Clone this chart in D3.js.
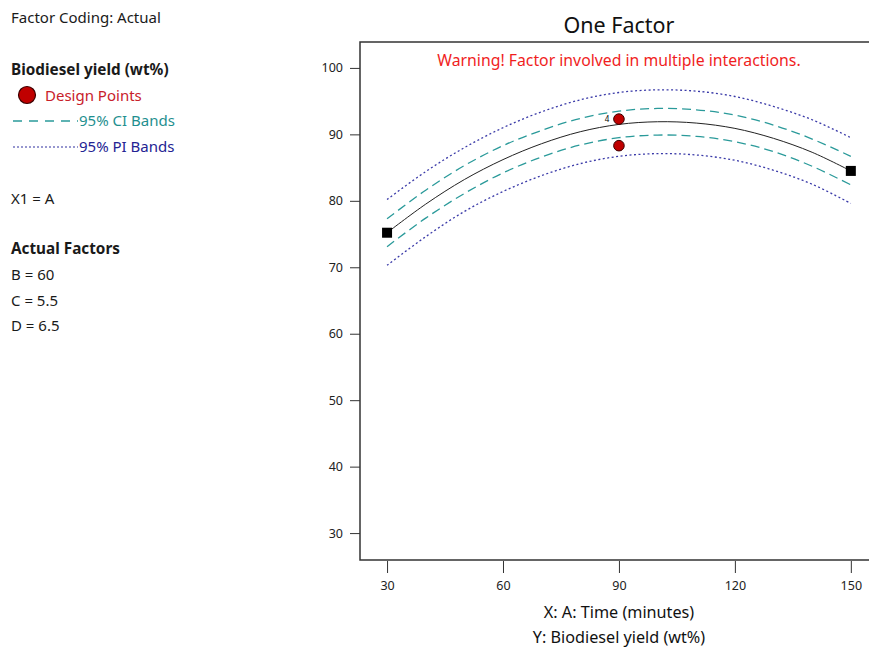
<!doctype html>
<html>
<head>
<script src="https://d3js.org/d3.v7.min.js"></script>
<style>
body { margin: 0; background: #fff; }
svg { display: block; font-family: "Noto Sans", sans-serif; }
.axis path { display: none; }
.axis line { stroke: #333; }
.axis text { font-size: 12.5px; fill: #222; font-family: "Noto Sans", sans-serif; }
</style>
</head>
<body>
<svg width="869" height="647" id="chart"></svg>
<script>
// values
var times = [30, 40, 50, 60, 70, 80, 90, 100, 110, 120, 130, 140, 150];
var predicted = [75.2, 79.5, 83.2, 86.2, 88.6, 90.4, 91.5, 91.9, 91.7, 90.9, 89.4, 87.3, 84.5];
var ciHigh = [77.3, 81.6, 85.3, 88.3, 90.6, 92.4, 93.5, 93.9, 93.7, 92.9, 91.4, 89.3, 86.7];
var ciLow = [73.1, 77.4, 81.1, 84.2, 86.6, 88.4, 89.5, 89.9, 89.7, 88.9, 87.4, 85.2, 82.4];
var piHigh = [80.2, 84.4, 88.0, 91.0, 93.4, 95.2, 96.3, 96.7, 96.5, 95.7, 94.2, 92.2, 89.5];
var piLow = [70.3, 74.6, 78.4, 81.4, 83.8, 85.6, 86.7, 87.1, 86.9, 86.1, 84.6, 82.5, 79.6];
var designX = [90, 90];
var designY = [92.3, 88.3];
var designLabels = ["4", ""];
var endX = [30, 150];
var endY = [75.2, 84.5];
var xTicks = [30, 60, 90, 120, 150];
var yTicks = [30, 40, 50, 60, 70, 80, 90, 100];

var svg = d3.select("#chart");
var pLeft = 360, pRight = 869, pTop = 42, pBottom = 560;

var x = d3.scaleLinear().domain([23, 154.7]).range([pLeft, 869]);
var y = d3.scaleLinear().domain([25.95, 103.9]).range([pBottom, pTop]);

// side panel text
var side = svg.append("g").attr("font-size", "15px").attr("fill", "#1a1a1a");
function sideText(txt, ty, opts) {
	var t = side.append("text").attr("x", 11).attr("y", ty).attr("dy", "0.35em").text(txt);
	if (opts && opts.bold) t.attr("font-weight", "bold").attr("font-size", "15.3px");
	if (opts && opts.color) t.attr("fill", opts.color);
	if (opts && opts.x) t.attr("x", opts.x);
	return t;
}
sideText("Factor Coding: Actual", 18);
sideText("Biodiesel yield (wt%)", 70, {bold: true});
side.append("circle").attr("cx", 27).attr("cy", 95).attr("r", 8.5)
	.attr("fill", "#c00000").attr("stroke", "#3a0000").attr("stroke-width", 1.2);
sideText("Design Points", 95.5, {color: "#c8202a", x: 45});
side.append("line").attr("x1", 13).attr("x2", 78).attr("y1", 121).attr("y2", 121)
	.attr("stroke", "#2a9a9a").attr("stroke-width", 1.3).attr("stroke-dasharray", "9,7");
sideText("95% CI Bands", 121, {color: "#1f8f8f", x: 79});
side.append("line").attr("x1", 13).attr("x2", 78).attr("y1", 147).attr("y2", 147)
	.attr("stroke", "#3030a0").attr("stroke-width", 1.2).attr("stroke-dasharray", "2,2");
sideText("95% PI Bands", 147, {color: "#232393", x: 79});
sideText("X1 = A", 199);
sideText("Actual Factors", 249, {bold: true});
sideText("B = 60", 275);
sideText("C = 5.5", 300.5);
sideText("D = 6.5", 325.5);

// titles
svg.append("text").attr("x", 619).attr("y", 25).attr("dy", "0.35em")
	.attr("text-anchor", "middle").attr("font-size", "21.5px").attr("fill", "#111").text("One Factor");
svg.append("text").attr("x", 619).attr("y", 60).attr("dy", "0.35em")
	.attr("text-anchor", "middle").attr("font-size", "15.8px").attr("fill", "#f01e1e")
	.text("Warning! Factor involved in multiple interactions.");

// axes
svg.append("g").attr("class", "axis").attr("transform", "translate(0," + (pBottom + 1) + ")")
	.call(d3.axisBottom(x).tickValues(xTicks).tickSize(12).tickPadding(8).tickFormat(d3.format("d")));
svg.append("g").attr("class", "axis").attr("transform", "translate(" + pLeft + ",0)")
	.call(d3.axisLeft(y).tickValues(yTicks).tickSize(10).tickPadding(7).tickFormat(d3.format("d")));

// frame: left, top and bottom only
svg.append("path")
	.attr("d", "M" + pRight + "," + pTop + "H" + pLeft + "V" + pBottom + "H" + pRight)
	.attr("fill", "none").attr("stroke", "#333").attr("stroke-width", 1.5);

// axis titles
svg.append("text").attr("x", 619).attr("y", 612).attr("dy", "0.35em").attr("text-anchor", "middle")
	.attr("font-size", "16.2px").attr("fill", "#111").text("X: A: Time (minutes)");
svg.append("text").attr("x", 619).attr("y", 637).attr("dy", "0.35em").attr("text-anchor", "middle")
	.attr("font-size", "16.2px").attr("fill", "#111").text("Y: Biodiesel yield (wt%)");

// curves
function curve(vals) {
	return d3.line().x(function(d, i) { return x(times[i]); }).y(function(d) { return y(d); })
		.curve(d3.curveCatmullRom)(vals);
}
var plot = svg.append("g");
[piHigh, piLow].forEach(function(s) {
	plot.append("path").attr("d", curve(s)).attr("fill", "none")
		.attr("stroke", "#3a3aa8").attr("stroke-width", 1.3).attr("stroke-dasharray", "2,2.5");
});
[ciHigh, ciLow].forEach(function(s) {
	plot.append("path").attr("d", curve(s)).attr("fill", "none")
		.attr("stroke", "#2a9a9a").attr("stroke-width", 1.3).attr("stroke-dasharray", "9,5");
});
plot.append("path").attr("d", curve(predicted)).attr("fill", "none")
	.attr("stroke", "#222").attr("stroke-width", 1);

// end markers
plot.selectAll("rect.end").data(endX).enter().append("rect").attr("class", "end")
	.attr("x", function(d) { return x(d) - 5; })
	.attr("y", function(d, i) { return y(endY[i]) - 5; })
	.attr("width", 10).attr("height", 10).attr("fill", "#000");

// design points
plot.selectAll("circle.pt").data(designX).enter().append("circle").attr("class", "pt")
	.attr("cx", function(d) { return x(d); })
	.attr("cy", function(d, i) { return y(designY[i]); })
	.attr("r", 5.3).attr("fill", "#c00000").attr("stroke", "#3a0000").attr("stroke-width", 1);
plot.selectAll("text.lbl").data(designX).enter().append("text").attr("class", "lbl")
	.attr("x", function(d) { return x(d) - 12; })
	.attr("y", function(d, i) { return y(designY[i]); })
	.attr("dy", "0.35em").attr("text-anchor", "middle").attr("font-size", "8px").attr("fill", "#000")
	.text(function(d, i) { return designLabels[i]; });
</script>
</body>
</html>
